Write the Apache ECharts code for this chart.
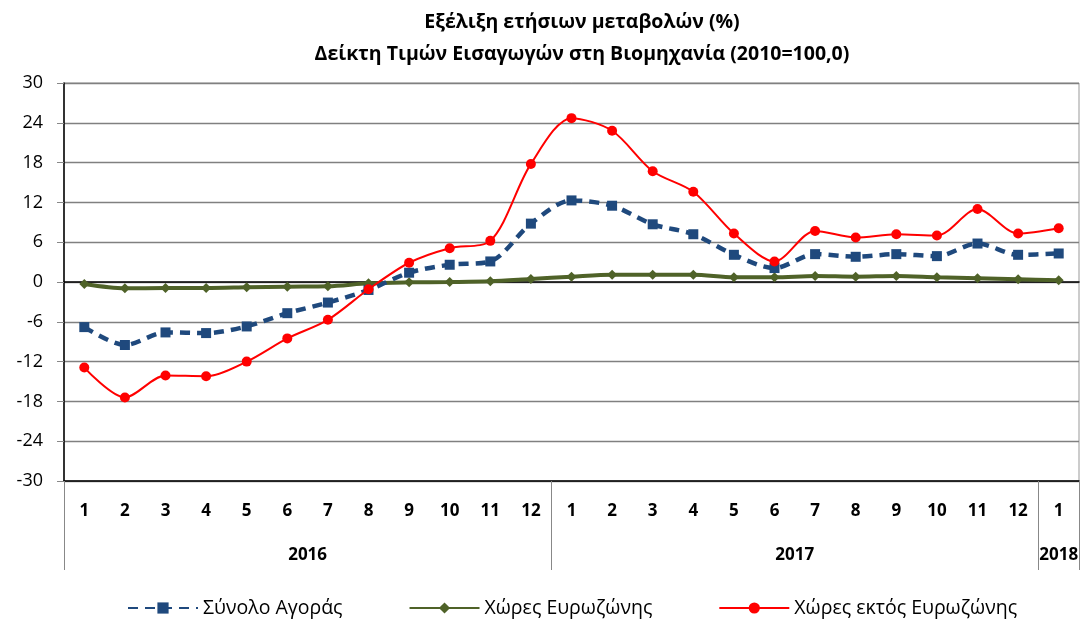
<!DOCTYPE html>
<html>
<head>
<meta charset="utf-8">
<script src="https://cdn.jsdelivr.net/npm/echarts@6/dist/echarts.min.js"></script>
<style>
  html, body { margin: 0; padding: 0; background: #fff; }
  #main { width: 1083px; height: 623px; }
</style>
</head>
<body>
<div id="main"></div>
<script>
// months (Jan 2016 .. Jan 2018)
var months = ["1","2","3","4","5","6","7","8","9","10","11","12",
              "1","2","3","4","5","6","7","8","9","10","11","12","1"];
var years = ["2016", "2017", "2018"];

// annual change (%)
var total = [-6.8, -9.5, -7.6, -7.7, -6.7, -4.7, -3.1, -1.2, 1.4, 2.6, 3.1, 8.8,
             12.3, 11.5, 8.7, 7.2, 4.1, 2.1, 4.2, 3.8, 4.2, 3.9, 5.8, 4.1, 4.3];
var euro = [-0.3, -0.95, -0.9, -0.9, -0.8, -0.7, -0.65, -0.2, -0.05, 0.0, 0.1, 0.45,
            0.8, 1.1, 1.1, 1.1, 0.7, 0.7, 0.9, 0.8, 0.9, 0.7, 0.55, 0.4, 0.25];
var nonEuro = [-12.9, -17.4, -14.1, -14.2, -12.0, -8.5, -5.7, -1.1, 2.9, 5.1, 6.2, 17.8,
               24.7, 22.8, 16.7, 13.6, 7.3, 3.1, 7.7, 6.7, 7.2, 7.0, 11.0, 7.3, 8.1];

var myChart = echarts.init(document.getElementById("main"));
var font = "'Open Sans', sans-serif";

var option = {
  animation: false,
  title: {
    text: "Εξέλιξη ετήσιων μεταβολών (%)\nΔείκτη Τιμών Εισαγωγών στη Βιομηχανία (2010=100,0)",
    left: 577,
    textAlign: "center",
    top: 1,
    textStyle: { fontFamily: font, fontSize: 19.5, fontWeight: "bold", color: "#000", lineHeight: 32 }
  },
  legend: {
    left: 122,
    bottom: 0,
    itemWidth: 70,
    itemHeight: 14,
    itemGap: 66,
    textStyle: { fontFamily: font, fontSize: 19.5, color: "#000" },
    data: ["Σύνολο Αγοράς", "Χώρες Ευρωζώνης", "Χώρες εκτός Ευρωζώνης"]
  },
  grid: {
    left: 64, right: 4, top: 83, bottom: 142,
    show: true, borderColor: "#999", borderWidth: 1
  },
  xAxis: [
    {
      // axis line through zero, ticks upward
      type: "category",
      data: months,
      position: "bottom",
      axisLine: { onZero: true, lineStyle: { color: "#000", width: 1.5 } },
      axisTick: { inside: true, length: 7, interval: 0, lineStyle: { color: "#666" } },
      axisLabel: { show: false }
    },
    {
      // month labels
      type: "category",
      data: months,
      position: "bottom",
      axisLine: { onZero: false, show: false },
      axisTick: { length: 44, interval: 0, lineStyle: { color: "#999" } },
      axisLabel: { interval: 0, margin: 22, fontFamily: font, fontSize: 17, fontWeight: "bold", color: "#000" }
    },
    {
      // year labels
      type: "value",
      min: 0,
      max: 25,
      position: "bottom",
      axisLine: { onZero: false, show: false },
      splitLine: { show: false },
      axisTick: { show: true, customValues: [0, 12, 24, 25], length: 89, lineStyle: { color: "#888" } },
      axisLabel: {
        customValues: [6, 18, 24.5],
        margin: 66,
        fontFamily: font, fontSize: 17, fontWeight: "bold", color: "#000",
        formatter: function (v) {
          return v < 12 ? years[0] : (v < 24 ? years[1] : years[2]);
        }
      }
    },
    {
      // ticks downward at zero line
      type: "category",
      data: months,
      position: "bottom",
      axisLine: { onZero: true, show: true, lineStyle: { color: "#000", width: 1.5 } },
      axisTick: { length: 7, interval: 0, lineStyle: { color: "#666" } },
      axisLabel: { show: false }
    },
    {
      // short ticks above the bottom line
      type: "category",
      data: months,
      position: "bottom",
      axisLine: { onZero: false, show: false },
      axisTick: { inside: true, length: 8, interval: 0, lineStyle: { color: "#999" } },
      axisLabel: { show: false }
    }
  ],
  yAxis: {
    type: "value",
    min: -30,
    max: 30,
    interval: 6,
    axisLine: { show: true, lineStyle: { color: "#000", width: 1.5 } },
    axisTick: { show: true, length: 7, lineStyle: { color: "#888" } },
    axisLabel: { fontFamily: font, fontSize: 18, color: "#000", margin: 21 },
    splitLine: { lineStyle: { color: "#808080", width: 1.3 } }
  },
  series: [
    {
      name: "Σύνολο Αγοράς",
      type: "line",
      data: total,
      smooth: 0.3,
      symbol: "rect",
      symbolSize: 10,
      lineStyle: { color: "#1F497D", width: 4.5, type: [10, 7] },
      itemStyle: { color: "#1F497D" },
      z: 3
    },
    {
      name: "Χώρες Ευρωζώνης",
      type: "line",
      data: euro,
      smooth: 0.3,
      symbol: "diamond",
      symbolSize: 10,
      lineStyle: { color: "#4F6228", width: 4 },
      itemStyle: { color: "#4F6228" },
      z: 2
    },
    {
      name: "Χώρες εκτός Ευρωζώνης",
      type: "line",
      data: nonEuro,
      smooth: 0.3,
      symbol: "circle",
      symbolSize: 10,
      lineStyle: { color: "#FF0000", width: 2 },
      itemStyle: { color: "#FF0000" },
      z: 4
    }
  ]
};

myChart.setOption(option);
</script>
</body>
</html>
